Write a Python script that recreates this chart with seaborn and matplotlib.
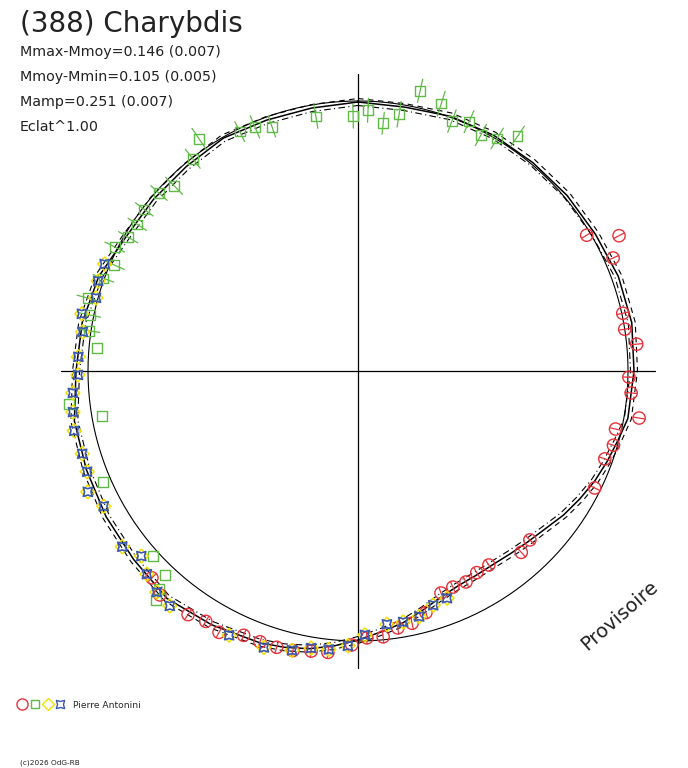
import numpy as np
import pandas as pd
import matplotlib
matplotlib.use("Agg")
import matplotlib.pyplot as plt
import seaborn as sns
from matplotlib.legend_handler import HandlerTuple
from matplotlib.lines import Line2D

# ---------------- text ----------------
title = "(388) Charybdis"
info_lines = ["Mmax-Mmoy=0.146 (0.007)",
              "Mmoy-Mmin=0.105 (0.005)",
              "Mamp=0.251 (0.007)",
              "Eclat^1.00"]
observer = "Pierre Antonini"
credit = "(c)2026 OdG-RB"
stamp = "Provisoire"

# ---------------- data (angle in degrees clockwise from top, radius in plot units) -------------
ref_radius = 270
axis_half_length = 297

fit_angle = [0, 10, 20, 30, 40, 50, 60, 70, 80, 90,
             100, 105, 110, 115, 120, 125, 130, 135, 140, 145,
             150, 155, 160, 165, 170, 175, 180, 185, 190, 195,
             200, 210, 220, 230, 240, 250, 260, 270, 280, 290,
             300, 310, 320, 330, 340, 350]
fit_radius = [269, 268, 271, 272, 272, 273, 274, 277, 278, 276,
              274, 269, 265, 261, 256, 251, 245, 241, 238, 236,
              236, 237, 241, 248, 256, 262, 269, 276, 282, 286,
              289, 293, 297, 293, 291, 289, 288, 282, 280, 276,
              268, 267, 267, 269, 267, 267]
fit_sigma = 3.5

red_angle = [59.3, 62.6, 66.1, 77.7, 81.1, 84.5, 91.3, 94.6, 99.5, 102.7,
             106.2, 109.6, 116.3, 134.5, 138.0, 146.0, 149.5, 152.9, 156.3, 159.5,
             164.3, 167.9, 171.2, 174.6, 178.1, 181.3, 186.1, 189.5, 193.1, 196.4,
             199.9, 203.4, 208.0, 211.3, 214.9, 221.5, 224.9]
red_radius = [266, 294, 279, 271, 270, 280, 271, 274, 285, 264,
              266, 262, 264, 241, 244, 234, 234, 237, 236, 237,
              251, 258, 260, 267, 267, 274, 283, 284, 287, 288,
              288, 288, 296, 293, 297, 299, 292]
red_err = 6

green_angle = [350.6, 358.9, 2.2, 5.8, 9.1, 12.5, 17.3, 20.6, 24.0, 27.5,
               30.9, 34.2, 325.6, 322.1, 315.2, 311.8, 307.1, 303.6, 300.2, 297.0,
               333.7, 337.1, 340.6, 293.5, 290.0, 285.1, 281.8, 278.5, 275.0, 263.5,
               260.0, 246.5, 227.9, 223.4, 222.4, 221.4]
green_radius = [258, 255, 261, 249, 260, 287, 280, 267, 273, 266,
                271, 284, 281, 269, 261, 267, 268, 265, 266, 273,
                267, 265, 259, 266, 271, 280, 274, 272, 262, 291,
                260, 278, 276, 281, 295, 305]
green_err = [12, 12, 12, 11, 13, 12, 13, 12, 12, 12,
             12, 12, 13, 12, 12, 11, 11, 11, 11, 11,
             11, 12, 11, 11, 11, 11, 11, 11, 0, 0,
             0, 0, 0, 0, 0, 0]

blue_angle = [292.9, 289.1, 285.6, 281.7, 278.1, 272.9, 269.2, 265.6, 261.8, 258.1,
              253.3, 249.6, 245.9, 242.0, 233.3, 229.5, 226.1, 222.3, 218.7, 206.0,
              198.8, 193.3, 189.6, 186.0, 182.1, 178.5, 173.5, 169.8, 166.0, 162.2,
              158.6]
blue_radius = [275, 275, 272, 282, 278, 280, 280, 286, 288, 290,
               288, 289, 296, 288, 294, 285, 293, 299, 301, 294,
               292, 287, 281, 280, 275, 264, 255, 255, 253, 246,
               244]

# ---------------- style ----------------
RED = "#e8323a"
GREEN = "#5fba46"
YELLOW = "#f2e000"
BLUE = "#3a58b4"
CX, CY = 358, 371   # pole position in figure pixels

sns.set_style("white")
plt.rcParams["font.family"] = ["DejaVu Sans"]

fig = plt.figure(figsize=(6.88, 7.68), dpi=100)
ax = fig.add_axes([0, 0, 1, 1])
ax.set_xlim(0, 688)
ax.set_ylim(768, 0)
ax.set_axis_off()


def to_xy(angle, radius):
    a = np.deg2rad(np.asarray(angle, float))
    r = np.asarray(radius, float)
    return CX + r * np.sin(a), CY - r * np.cos(a)


def radial_bars(angle, radius, half):
    a = np.deg2rad(np.asarray(angle, float))
    r = np.asarray(radius, float)
    h = np.broadcast_to(np.asarray(half, float), r.shape)
    xs, ys = [], []
    for ai, ri, hi in zip(a, r, h):
        if hi <= 0:
            continue
        xs += [CX + (ri - hi) * np.sin(ai), CX + (ri + hi) * np.sin(ai), np.nan]
        ys += [CY - (ri - hi) * np.cos(ai), CY - (ri + hi) * np.cos(ai), np.nan]
    return xs, ys


# axes cross
ax.plot([CX - axis_half_length, CX + axis_half_length], [CY, CY], color="black", lw=0.9)
ax.plot([CX, CX], [CY - axis_half_length, CY + axis_half_length], color="black", lw=0.9)

# reference circle
t = np.linspace(0, 360, 361)
rx, ry = to_xy(t, np.full_like(t, ref_radius))
sns.lineplot(x=rx, y=ry, sort=False, estimator=None, color="black", lw=0.8, ax=ax)

# fitted curve and its envelope
fa = list(fit_angle) + [fit_angle[0] + 360]
fr = np.array(list(fit_radius) + [fit_radius[0]], float)
fx, fy = to_xy(fa, fr)
sns.lineplot(x=fx, y=fy, sort=False, estimator=None, color="black", lw=1.1, ax=ax)
ux, uy = to_xy(fa, fr + fit_sigma)
lx, ly = to_xy(fa, fr - fit_sigma)
ax.plot(ux, uy, color="black", lw=0.8, ls=(0, (5, 4)))
ax.plot(lx, ly, color="black", lw=0.8, ls=(0, (6, 3, 1, 3)))

# error bars
bx, by = radial_bars(green_angle, green_radius, green_err)
ax.plot(bx, by, color=GREEN, lw=0.9)
bx, by = radial_bars(red_angle, red_radius, red_err)
ax.plot(bx, by, color=RED, lw=0.9)

# points
gx, gy = to_xy(green_angle, green_radius)
sns.scatterplot(x=gx, y=gy, marker="s", s=48, color=GREEN, facecolors="none",
                edgecolor=GREEN, linewidth=1.0, ax=ax, zorder=3)
rx_, ry_ = to_xy(red_angle, red_radius)
sns.scatterplot(x=rx_, y=ry_, marker="o", s=78, color=RED, facecolors="none",
                edgecolor=RED, linewidth=1.0, ax=ax, zorder=3)
yx, yy = to_xy(blue_angle, blue_radius)
sns.scatterplot(x=yx, y=yy, marker="D", s=50, color=YELLOW, facecolors="none",
                edgecolor=YELLOW, linewidth=1.1, ax=ax, zorder=3)
sns.scatterplot(x=yx, y=yy, marker=(4, 1, 45), s=85, color=BLUE, facecolors="none",
                edgecolor=BLUE, linewidth=1.2, ax=ax, zorder=4)

# texts
ax.text(20, 32, title, fontsize=20, color="#222222", va="baseline", ha="left")
for i, line in enumerate(info_lines):
    ax.text(20, 56 + 25 * i, line, fontsize=10.3, color="#222222", va="baseline", ha="left")
ax.text(620, 616, stamp, fontsize=14, rotation=41, color="#222222",
        ha="center", va="center", rotation_mode="anchor")
ax.text(20, 765, credit, fontsize=5.3, color="#222222", va="baseline", ha="left")

# legend
handles = (
    Line2D([], [], marker="o", ls="none", mfc="none", mec=RED, ms=8.0, mew=1.0),
    Line2D([], [], marker="s", ls="none", mfc="none", mec=GREEN, ms=6.0, mew=1.0),
    Line2D([], [], marker="D", ls="none", mfc="none", mec=YELLOW, ms=6.0, mew=1.0),
    Line2D([], [], marker=(4, 1, 45), ls="none", mfc="none", mec=BLUE, ms=8.5, mew=1.0),
)
ax.legend([handles], [observer], handler_map={tuple: HandlerTuple(ndivide=None, pad=0)},
          loc="center left", bbox_to_anchor=(16 / 688, 1 - 705 / 768), frameon=False,
          borderpad=0, borderaxespad=0, handlelength=5.5, handletextpad=0.75,
          prop={"size": 6.6})

fig.savefig("out.png", dpi=100)
